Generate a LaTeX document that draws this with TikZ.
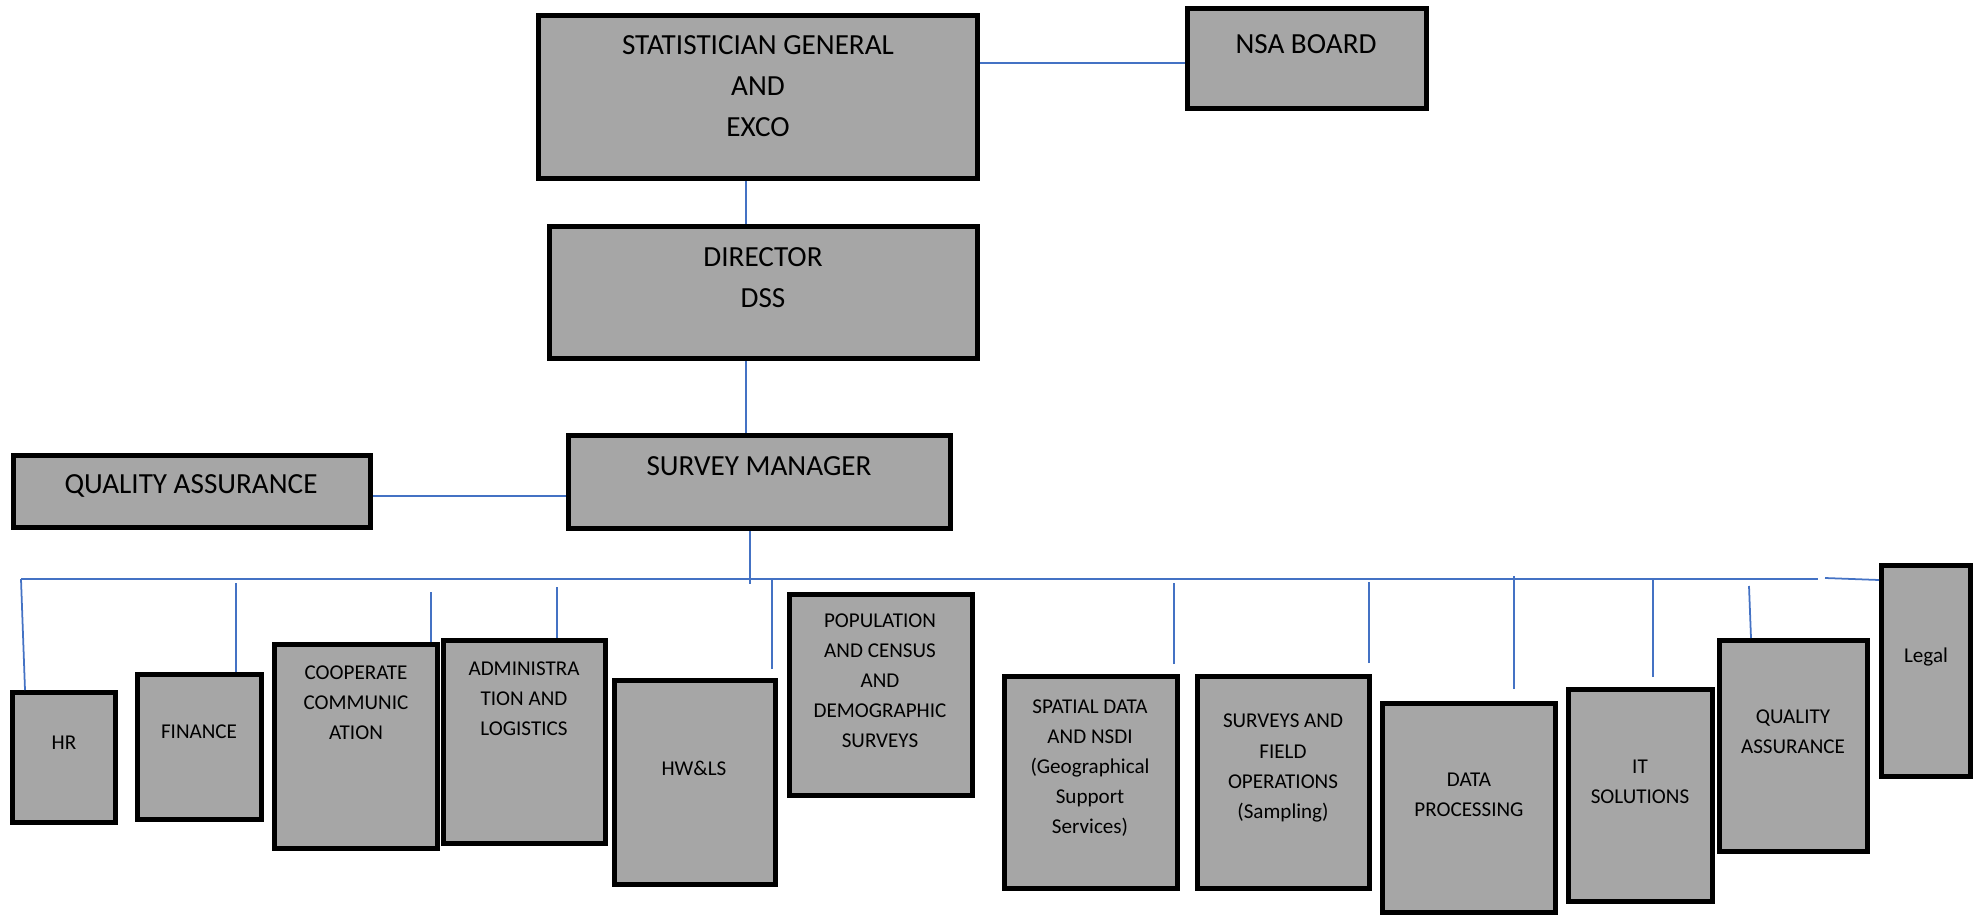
\documentclass[tikz,border=0pt]{standalone}
\usepackage{fontspec}
\setmainfont{Carlito}
\definecolor{boxgray}{HTML}{A6A6A6}
\definecolor{linkblue}{HTML}{4472C4}
\tikzset{
  unitbox/.style={draw=black, line width=1mm, fill=boxgray, inner sep=0pt},
  bigtext/.style={font=\fontsize{16.6}{23.3}\selectfont, align=center, inner sep=0pt},
  smalltext/.style={font=\fontsize{12}{17.1}\selectfont, align=center, inner sep=0pt},
  link/.style={draw=linkblue, line width=1pt}
}
\begin{document}
\begin{tikzpicture}[x=0.2mm, y=-0.2mm]
    \useasboundingbox (0,0) rectangle (1977,916);

    \node[unitbox, minimum width=87.8mm, minimum height=32.6mm] (SG) at (758,97) {};
    \node[bigtext] (SGt) at (758,86) {STATISTICIAN GENERAL\\AND\\EXCO};
    \node[unitbox, minimum width=47.8mm, minimum height=20mm] (NB) at (1307,58.5) {};
    \node[bigtext] (NBt) at (1306,44) {NSA BOARD};
    \node[unitbox, minimum width=85.6mm, minimum height=26.4mm] (DR) at (763.5,292.5) {};
    \node[bigtext] (DRt) at (763,277.5) {DIRECTOR\\DSS};
    \node[unitbox, minimum width=76.4mm, minimum height=18.6mm] (SM) at (759.5,482) {};
    \node[bigtext] (SMt) at (759,466) {SURVEY MANAGER};
    \node[unitbox, minimum width=71.4mm, minimum height=14.4mm] (QA) at (192,491.5) {};
    \node[bigtext] (QAt) at (191,486) {QUALITY ASSURANCE};

    \draw[link] ([yshift=-0.9mm]NB.west) -- ++(-205,0);
    \draw[link] ([xshift=-2.4mm]SG.south) -- ++(0,43);
    \draw[link] ([xshift=-3.5mm]DR.south) -- ++(0,72);
    \draw[link] ([xshift=-1.9mm]SM.south) -- ++(0,53);
    \draw[link] ([yshift=-0.9mm]QA.east) -- ++(193,0);

    \node[unitbox, minimum width=20.6mm, minimum height=26mm] (HR) at (64,757.5) {};
    \node[smalltext] (HRt) at (64,743) {HR};
    \node[unitbox, minimum width=24.8mm, minimum height=29mm] (FI) at (199.5,747) {};
    \node[smalltext] (FIt) at (199,732) {FINANCE};
    \node[unitbox, minimum width=32.6mm, minimum height=40.8mm] (CC) at (356,746.5) {};
    \node[smalltext] (CCt) at (356,703) {COOPERATE\\COMMUNIC\\ATION};
    \node[unitbox, minimum width=32.4mm, minimum height=40.6mm] (AL) at (524.5,742) {};
    \node[smalltext] (ALt) at (524,699) {ADMINISTRA\\TION AND\\LOGISTICS};
    \node[unitbox, minimum width=32.2mm, minimum height=40.8mm] (HW) at (695,782.5) {};
    \node[smalltext] (HWt) at (694,768) {HW\&LS};
    \node[unitbox, minimum width=36.6mm, minimum height=40.2mm] (PC) at (881,695) {};
    \node[smalltext] (PCt) at (880,680.5) {POPULATION\\AND CENSUS\\AND\\DEMOGRAPHIC\\SURVEYS};
    \node[unitbox, minimum width=34.6mm, minimum height=42.4mm] (SD) at (1091,782.5) {};
    \node[smalltext] (SDt) at (1090,768) {SPATIAL DATA\\AND NSDI\\(Geographical\\Support\\Services)};
    \node[unitbox, minimum width=34.4mm, minimum height=42.4mm] (SF) at (1283.5,782.5) {};
    \node[smalltext] (SFt) at (1283,768) {SURVEYS AND\\FIELD\\OPERATIONS\\(Sampling)};
    \node[unitbox, minimum width=34.6mm, minimum height=41.8mm] (DP) at (1469,808) {};
    \node[smalltext] (DPt) at (1469,795) {DATA\\PROCESSING};
    \node[unitbox, minimum width=28.8mm, minimum height=42.4mm] (IT) at (1640.5,795.5) {};
    \node[smalltext] (ITt) at (1640,782) {IT\\SOLUTIONS};
    \node[unitbox, minimum width=29.6mm, minimum height=42.2mm] (QB) at (1793.5,746) {};
    \node[smalltext] (QBt) at (1793,731.5) {QUALITY\\ASSURANCE};
    \node[unitbox, minimum width=17.8mm, minimum height=42.2mm] (LG) at (1926,671) {};
    \node[smalltext] (LGt) at (1926,657) {Legal};

    \coordinate (BUS) at (21,579);
    \draw[link] (BUS) -- ++(1797,0);
    \draw[link] ([yshift=-3.4mm]LG.north west) -- ++(-54,-2);

    \draw[link] (BUS) -- ([xshift=-7.8mm]HR.north);
    \draw[link] ([xshift=7.3mm]FI.north) -- ++(0,-89);
    \draw[link] ([xshift=15mm]CC.north) -- ++(0,-50);
    \draw[link] ([xshift=6.5mm]AL.north) -- ++(0,-51);
    \draw[link] ([xshift=15.4mm]HW.north) ++(0,-9) -- ++(0,-89);
    \draw[link] ([xshift=16.6mm]SD.north) ++(0,-10) -- ++(0,-81);
    \draw[link] ([xshift=17.1mm]SF.north) ++(0,-11) -- ++(0,-81);
    \draw[link] ([xshift=9mm]DP.north) ++(0,-12) -- ++(0,-113);
    \draw[link] ([xshift=2.5mm]IT.north) ++(0,-10) -- ++(0,-99);
    \draw[link] ([xshift=-8.5mm]QB.north) -- ++(-2,-52);
\end{tikzpicture}
\end{document}
